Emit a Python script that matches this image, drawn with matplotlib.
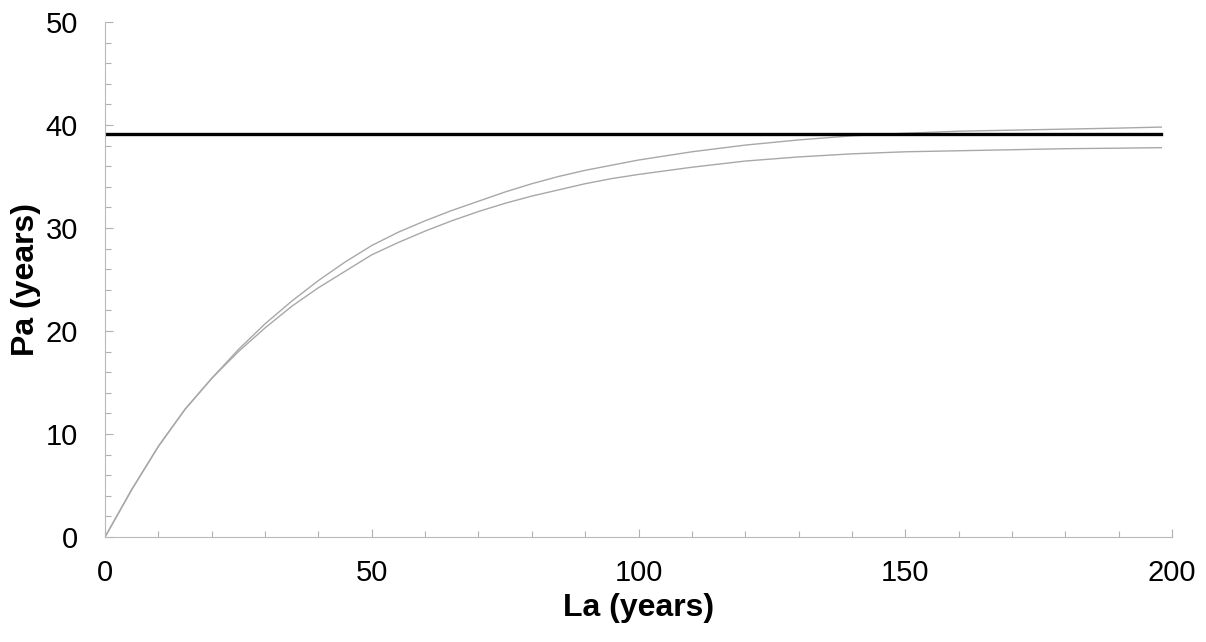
import numpy as np
import matplotlib
matplotlib.use("Agg")
import matplotlib.pyplot as plt
from matplotlib.ticker import MultipleLocator

plt.rcParams['font.family'] = ['Liberation Sans', 'DejaVu Sans']

# values
la_upper = [0, 5, 10, 15, 20, 25, 30, 35, 40, 45, 50, 55, 60, 65, 70, 75, 80, 85, 90, 95,
            100, 110, 120, 130, 140, 150, 160, 170, 180, 190, 198]
pa_upper = [0, 4.6, 8.8, 12.4, 15.4, 18.2, 20.7, 22.9, 24.9, 26.7, 28.3, 29.6, 30.7, 31.7, 32.6,
            33.5, 34.3, 35.0, 35.6, 36.1, 36.6, 37.4, 38.05, 38.55, 38.95, 39.2, 39.4, 39.5, 39.6,
            39.7, 39.8]

la_lower = [0, 5, 10, 15, 20, 25, 30, 35, 40, 45, 50, 55, 60, 65, 70, 75, 80, 85, 90, 95,
            100, 110, 120, 130, 140, 150, 160, 170, 180, 190, 198]
pa_lower = [0, 4.6, 8.8, 12.4, 15.4, 18.0, 20.3, 22.4, 24.2, 25.8, 27.4, 28.6, 29.7, 30.7, 31.6,
            32.4, 33.1, 33.7, 34.3, 34.8, 35.2, 35.9, 36.5, 36.9, 37.2, 37.4, 37.5, 37.6, 37.7,
            37.75, 37.8]

la_const = [0, 198]
pa_const = [39.1, 39.1]

fig = plt.figure(figsize=(12.06, 6.42), dpi=100)
ax = fig.add_axes([0.0871, 0.1636, 0.8847, 0.8021])

ax.plot(la_upper, pa_upper, color="#a8a8a8", lw=1.0)
ax.plot(la_lower, pa_lower, color="#a8a8a8", lw=1.0)
ax.plot(la_const, pa_const, color="black", lw=2.4)

ax.set_xlim(0, 200)
ax.set_ylim(0, 50)
ax.xaxis.set_major_locator(MultipleLocator(50))
ax.xaxis.set_minor_locator(MultipleLocator(10))
ax.yaxis.set_major_locator(MultipleLocator(10))
ax.yaxis.set_minor_locator(MultipleLocator(2))

for s in ["top", "right"]:
    ax.spines[s].set_visible(False)
for s in ["left", "bottom"]:
    ax.spines[s].set_color("#b8b8c0")
    ax.spines[s].set_linewidth(0.8)

ax.tick_params(axis="both", which="both", direction="in", color="#b0b0b8", width=0.8)
ax.tick_params(axis="both", which="major", length=6, labelsize=21)
ax.tick_params(axis="both", which="minor", length=4)
ax.tick_params(axis="y", which="major", pad=19.5)
ax.tick_params(axis="x", which="major", pad=16)

ax.set_xlabel("La (years)", fontsize=23, fontweight="bold", labelpad=4)
ax.set_ylabel("Pa (years)", fontsize=23, fontweight="bold", labelpad=3)

plt.savefig("out.png", dpi=100)
